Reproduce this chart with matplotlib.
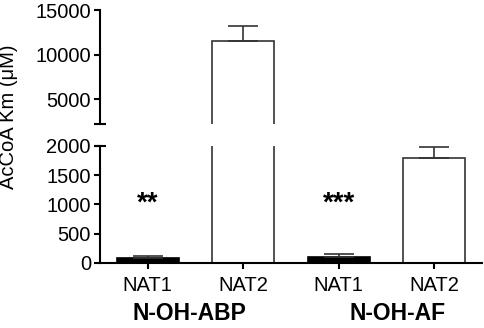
"""AcCoA Km bar chart with broken y-axis."""
import numpy as np
import matplotlib
matplotlib.use("Agg")
import matplotlib.pyplot as plt
import matplotlib.transforms as mtransforms

plt.rcParams["font.family"] = ["Liberation Sans", "DejaVu Sans"]

# data
labels = ["NAT1", "NAT2", "NAT1", "NAT2"]
groups = ["N-OH-ABP", "N-OH-AF"]
km = [85, 11520, 105, 1790]
km_err = [35, 1650, 40, 185]
stars = ["**", "", "***", ""]
star_y = [1010, 0, 1010, 0]
fills = ["black", "white", "black", "white"]

x = np.arange(len(labels))
W, H = 484, 328
fig = plt.figure(figsize=(W / 100, H / 100), dpi=100)

left, right = 100 / W, 482 / W
ax_hi = fig.add_axes([left, 1 - 124.3 / H, right - left, (124.3 - 10) / H])
ax_lo = fig.add_axes([left, 1 - 262.7 / H, right - left, (262.7 - 146) / H])

edge = "#333333"
for ax in (ax_hi, ax_lo):
    ax.bar(x, km, width=0.65, color=fills, edgecolor=[edge if f == "white" else "black" for f in fills],
           linewidth=1.2, zorder=2)
    ax.errorbar(x, km, yerr=[np.zeros(len(km)), km_err], fmt="none", ecolor=edge,
                elinewidth=1.2, capsize=11, capthick=1.2, zorder=3)
    ax.set_xlim(-0.5, 3.5)
    for s in ("top", "right"):
        ax.spines[s].set_visible(False)
    ax.spines["left"].set_linewidth(1.5)
    ax.spines["bottom"].set_linewidth(1.5)
    ax.tick_params(axis="y", direction="out", length=4.5, width=1.5, labelsize=14.5, pad=2)
    ax.patch.set_alpha(0)

ax_hi.set_ylim(2200, 15000)
ax_hi.set_yticks([5000, 10000, 15000])
ax_hi.spines["bottom"].set_visible(False)
ax_hi.set_xticks([])

ax_lo.set_ylim(0, 2000)
ax_lo.set_yticks([0, 500, 1000, 1500, 2000])
ax_lo.set_xticks(x)
ax_lo.set_xticklabels(labels)
ax_lo.tick_params(axis="x", direction="out", length=4.5, width=1.5, labelsize=14.5, pad=5)

# break caps on the y spine
ax_hi.plot([0], [0], marker="_", markersize=9, markeredgewidth=1.5, color="black",
           transform=ax_hi.transAxes, clip_on=False)
ax_lo.plot([0], [1], marker="_", markersize=9, markeredgewidth=1.5, color="black",
           transform=ax_lo.transAxes, clip_on=False)

for xi, s, sy in zip(x, stars, star_y):
    if s:
        ax_lo.text(xi, sy, s, ha="center", va="center", fontsize=20, fontweight="bold")

trans = mtransforms.blended_transform_factory(ax_lo.transData, fig.transFigure)
ax_lo.text(0.44, 1 - 314 / H, groups[0], transform=trans, ha="center", va="center",
           fontsize=16.5, fontweight="bold")
ax_lo.text(2.62, 1 - 314 / H, groups[1], transform=trans, ha="center", va="center",
           fontsize=16.5, fontweight="bold")

fig.text(8.5 / W, 1 - 116.7 / H, "AcCoA Km (μM)", rotation=90, ha="center", va="center",
         fontsize=14.5)

plt.savefig("out.png", dpi=100)
plt.close()
